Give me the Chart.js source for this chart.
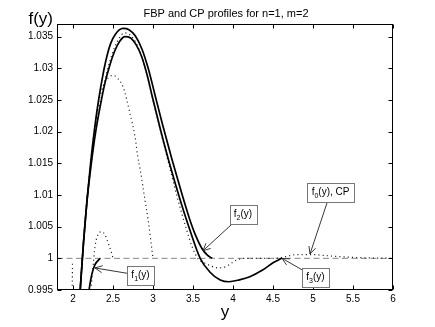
<!DOCTYPE html>
<html>
<head>
<meta charset="utf-8">
<script src="https://cdn.jsdelivr.net/npm/chart.js@4.4.0/dist/chart.umd.min.js"></script>
<style>
  html, body { margin: 0; padding: 0; background: #fff; }
</style>
</head>
<body>
<canvas id="chart" width="435" height="327"></canvas>
<script>
// Axis ticks
const xTicks = [2, 2.5, 3, 3.5, 4, 4.5, 5, 5.5, 6];
const xTickLabels = ['2', '2.5', '3', '3.5', '4', '4.5', '5', '5.5', '6'];
const yTicks = [0.995, 1, 1.005, 1.01, 1.015, 1.02, 1.025, 1.03, 1.035];
const yTickLabels = ['0.995', '1', '1.005', '1.01', '1.015', '1.02', '1.025', '1.03', '1.035'];

// f1(y), short solid piece
const f1X = [2.2, 2.22, 2.24, 2.275, 2.31, 2.34];
const f1Y = [0.995, 0.9965, 0.9977, 0.999, 0.9996, 1.0];

// f2(y), outer solid curve
const f2X = [2.09, 2.13, 2.175, 2.22, 2.27, 2.32, 2.37, 2.42, 2.47, 2.53, 2.625, 2.70, 2.78, 2.86, 2.94, 3.025, 3.12, 3.24, 3.37, 3.45, 3.53, 3.61, 3.68, 3.74];
const f2Y = [0.995, 1.0023, 1.0092, 1.015, 1.0205, 1.025, 1.0287, 1.0317, 1.0339, 1.0354, 1.0363, 1.0361, 1.0351, 1.0331, 1.03, 1.0258, 1.0211, 1.0155, 1.0098, 1.0065, 1.0037, 1.0016, 1.0005, 1.0];

// f3(y), inner solid curve
const f3X = [2.09, 2.13, 2.175, 2.225, 2.28, 2.34, 2.40, 2.46, 2.52, 2.58, 2.65, 2.72, 2.79, 2.86, 2.93, 2.99, 3.09, 3.21, 3.34, 3.46, 3.59, 3.71, 3.84, 3.95, 4.08, 4.21, 4.375, 4.5, 4.61];
const f3Y = [0.995, 1.0022, 1.009, 1.0146, 1.0197, 1.024, 1.0277, 1.0305, 1.0327, 1.0342, 1.035, 1.0348, 1.0337, 1.0318, 1.0288, 1.0256, 1.0205, 1.0148, 1.0092, 1.0045, 1.0, 0.99785, 0.99658, 0.9963, 0.9966, 0.9971, 0.9982, 0.9993, 1.0];

// f0(y), CP dotted profile
const f0X = [2.09, 2.13, 2.175, 2.225, 2.28, 2.34, 2.40, 2.46, 2.52, 2.58, 2.64, 2.71, 2.78, 2.85, 2.92, 2.98, 3.07, 3.18, 3.3, 3.42, 3.49, 3.56, 3.675, 3.81, 3.88, 3.94, 4.0, 4.06, 4.15, 4.3, 4.5, 4.6, 4.7, 4.8, 4.9, 5.0, 5.1, 5.3, 5.6, 6.0];
const f0Y = [0.995, 1.0023, 1.0091, 1.0148, 1.02, 1.0245, 1.0282, 1.0311, 1.0333, 1.0348, 1.0356, 1.0353, 1.0342, 1.0322, 1.0292, 1.026, 1.0213, 1.0158, 1.0098, 1.0045, 1.0018, 1.0, 0.9991, 0.9985, 0.99855, 0.9989, 0.9994, 0.9998, 1.0, 1.0, 1.0, 1.0001, 1.0004, 1.0006, 1.0006, 1.0006, 1.0005, 1.0003, 1.0001, 1.0];

// other dotted profiles
const tallX = [2.09, 2.13, 2.175, 2.22, 2.27, 2.32, 2.38, 2.44, 2.5, 2.56, 2.625, 2.71, 2.775, 2.81, 2.84, 2.9, 2.94, 3.0];
const tallY = [0.995, 1.0023, 1.0092, 1.015, 1.0205, 1.0247, 1.0273, 1.0285, 1.0289, 1.0284, 1.0271, 1.023, 1.0192, 1.016, 1.014, 1.0092, 1.006, 1.0];
const bumpX = [2.225, 2.25, 2.275, 2.31, 2.36, 2.4, 2.44, 2.49, 2.5];
const bumpY = [0.995, 0.9986, 1.0018, 1.0037, 1.0042, 1.0037, 1.0024, 1.0005, 1.0];
const stubX = [1.99, 1.992, 1.994];
const stubY = [0.995, 0.9972, 0.9994];

// reference level
const refX = [1.8, 6];
const refY = [1, 1];

const FONT = "'Liberation Sans', Arial, Helvetica, sans-serif";

function zip(xs, ys) {
  return xs.map((x, i) => ({ x: x, y: ys[i] }));
}

function solid(data) {
  return { data: data, borderColor: '#000', borderWidth: 1.7, pointRadius: 0, cubicInterpolationMode: 'monotone' };
}

function dotted(data) {
  return { data: data, borderColor: '#222', borderWidth: 1.2, borderDash: [1.1, 3.1], pointRadius: 0, cubicInterpolationMode: 'monotone' };
}

// text boxes with arrows (data coordinates)
const notes = [
  { pre: 'f', sub: '1', post: '(y)', tip: [2.275, 0.99848], box: [2.844, 0.99729] },
  { pre: 'f', sub: '2', post: '(y)', tip: [3.625, 1.0012], box: [4.125, 1.0070] },
  { pre: 'f', sub: '0', post: '(y), CP', tip: [4.9625, 1.00069], box: [5.219, 1.01042] },
  { pre: 'f', sub: '3', post: '(y)', tip: [4.6125, 1.0], box: [5.031, 0.99698] },
];

const decorPlugin = {
  id: 'decor',
  afterDatasetsDraw(chart) {
    const ctx = chart.ctx;
    const area = chart.chartArea;
    const xs = chart.scales.x;
    const ys = chart.scales.y;
    const L = Math.round(area.left) + 0.5;
    const R = Math.round(area.right) - 0.5;
    const T = Math.round(area.top) + 0.5;
    const B = Math.round(area.bottom) - 0.5;

    ctx.save();
    ctx.strokeStyle = '#000';
    ctx.lineWidth = 1;
    ctx.setLineDash([]);
    ctx.strokeRect(L, T, R - L, B - T);

    // inward tick marks on all four sides
    ctx.beginPath();
    xTicks.forEach((v) => {
      const px = Math.round(xs.getPixelForValue(v)) + 0.5;
      ctx.moveTo(px, B); ctx.lineTo(px, B - 4);
      ctx.moveTo(px, T); ctx.lineTo(px, T + 4);
    });
    yTicks.forEach((v) => {
      const py = Math.round(ys.getPixelForValue(v)) + 0.5;
      ctx.moveTo(L, py); ctx.lineTo(L + 4, py);
      ctx.moveTo(R, py); ctx.lineTo(R - 4, py);
    });
    ctx.stroke();

    // annotations
    notes.forEach((n) => {
      const cx = xs.getPixelForValue(n.box[0]);
      const cy = ys.getPixelForValue(n.box[1]);
      const tx = xs.getPixelForValue(n.tip[0]);
      const ty = ys.getPixelForValue(n.tip[1]);
      ctx.font = '10px ' + FONT;
      const w1 = ctx.measureText(n.pre).width;
      const w3 = ctx.measureText(n.post).width;
      ctx.font = '7px ' + FONT;
      const w2 = ctx.measureText(n.sub).width;
      const tw = w1 + w2 + w3;
      const bw = Math.round(tw + 9);
      const bh = 19;
      const bx = Math.round(cx - bw / 2) + 0.5;
      const by = Math.round(cy - bh / 2) + 0.5;

      // arrow from box edge to tip
      const dx = tx - cx, dy = ty - cy;
      const t = Math.min((bw / 2) / Math.abs(dx || 1e-6), (bh / 2) / Math.abs(dy || 1e-6));
      const sx = cx + dx * t, sy = cy + dy * t;
      ctx.strokeStyle = '#222';
      ctx.lineWidth = 0.9;
      ctx.beginPath();
      ctx.moveTo(sx, sy);
      ctx.lineTo(tx, ty);
      const ang = Math.atan2(ty - sy, tx - sx);
      const hl = 8, ha = 0.45;
      ctx.moveTo(tx - hl * Math.cos(ang - ha), ty - hl * Math.sin(ang - ha));
      ctx.lineTo(tx, ty);
      ctx.lineTo(tx - hl * Math.cos(ang + ha), ty - hl * Math.sin(ang + ha));
      ctx.stroke();

      ctx.fillStyle = '#fff';
      ctx.fillRect(bx, by, bw, bh);
      ctx.strokeStyle = '#777';
      ctx.lineWidth = 1;
      ctx.strokeRect(bx, by, bw, bh);

      ctx.fillStyle = '#000';
      ctx.textAlign = 'left';
      ctx.textBaseline = 'alphabetic';
      let px = cx - tw / 2;
      const base = cy + 3;
      ctx.font = '10px ' + FONT;
      ctx.fillText(n.pre, px, base);
      px += w1;
      ctx.font = '7px ' + FONT;
      ctx.fillText(n.sub, px, base + 3);
      px += w2;
      ctx.font = '10px ' + FONT;
      ctx.fillText(n.post, px, base);
    });

    // title and labels
    ctx.fillStyle = '#000';
    ctx.textAlign = 'center';
    ctx.textBaseline = 'middle';
    ctx.font = '11px ' + FONT;
    ctx.fillText('FBP and CP profiles for n=1, m=2', (area.left + area.right) / 2 + 1, 14);
    ctx.textBaseline = 'alphabetic';
    ctx.font = '17px ' + FONT;
    ctx.fillText('y', (area.left + area.right) / 2, 317);
    ctx.textAlign = 'right';
    ctx.fillText('f(y)', 53, 23.5);
    ctx.restore();
  },
};

new Chart(document.getElementById('chart').getContext('2d'), {
  type: 'line',
  data: {
    datasets: [
      solid(zip(f1X, f1Y)),
      solid(zip(f2X, f2Y)),
      solid(zip(f3X, f3Y)),
      dotted(zip(f0X, f0Y)),
      dotted(zip(tallX, tallY)),
      dotted(zip(bumpX, bumpY)),
      dotted(zip(stubX, stubY)),
      { data: zip(refX, refY), borderColor: '#888', borderWidth: 1, borderDash: [6, 3.5], pointRadius: 0 },
    ],
  },
  options: {
    responsive: false,
    animation: false,
    devicePixelRatio: 1,
    layout: { padding: { top: 24, right: 42, left: 0, bottom: 0 } },
    plugins: {
      legend: { display: false },
      tooltip: { enabled: false },
      title: { display: false },
    },
    scales: {
      x: {
        type: 'linear',
        min: 1.8,
        max: 6,
        afterBuildTicks: (s) => { s.ticks = xTicks.map((v) => ({ value: v })); },
        afterFit: (s) => { s.height = 37; },
        ticks: {
          autoSkip: false,
          maxRotation: 0,
          padding: 3,
          color: '#000',
          font: { family: FONT, size: 10 },
          callback: (v) => xTickLabels[xTicks.indexOf(v)],
        },
        grid: { display: false, drawTicks: false },
        border: { display: false },
      },
      y: {
        type: 'linear',
        min: 0.995,
        max: 1.037,
        afterBuildTicks: (s) => { s.ticks = yTicks.map((v) => ({ value: v })); },
        afterFit: (s) => { s.width = 57; },
        ticks: {
          autoSkip: false,
          padding: 4,
          color: '#000',
          font: { family: FONT, size: 10 },
          callback: (v) => {
            const i = yTicks.findIndex((t) => Math.abs(t - v) < 1e-9);
            return i >= 0 ? yTickLabels[i] : '';
          },
        },
        grid: { display: false, drawTicks: false },
        border: { display: false },
      },
    },
  },
  plugins: [decorPlugin],
});
</script>
</body>
</html>
